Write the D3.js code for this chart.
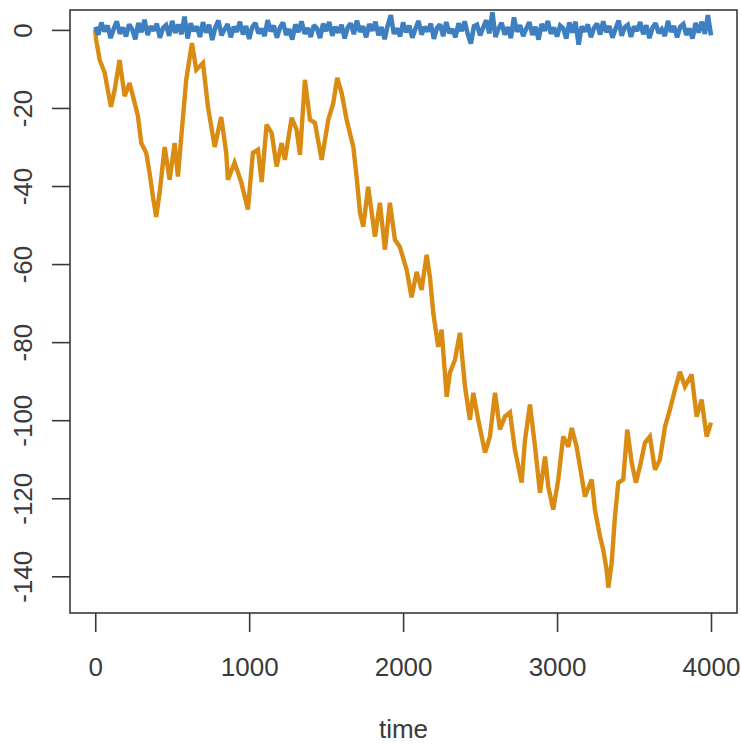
<!DOCTYPE html>
<html>
<head>
<meta charset="utf-8">
<script src="https://cdn.jsdelivr.net/npm/d3@7"></script>
<style>
  html, body { margin: 0; padding: 0; background: #ffffff; }
  svg { display: block; }
</style>
</head>
<body>
<svg id="chart" width="741" height="744"></svg>
<script>
// ---- data ----
const xTicks = [0, 1000, 2000, 3000, 4000];
const yTicks = [0, -20, -40, -60, -80, -100, -120, -140];
const xLabel = "time";

// random-walk series (orange): time points and values
const walkTime = [0, 6, 29, 61, 102, 126, 158, 191, 223, 245, 277, 299, 331, 353, 375, 396, 418, 451, 483, 516,
  537, 559, 591, 628, 656, 700, 732, 776, 818, 851, 862, 905, 948, 992, 1024, 1057, 1081, 1113, 1146, 1178,
  1211, 1232, 1276, 1308, 1330, 1362, 1395, 1427, 1471, 1514, 1546, 1572, 1601, 1633, 1676, 1698, 1720, 1741, 1773, 1817,
  1849, 1882, 1914, 1947, 1979, 2023, 2055, 2088, 2120, 2153, 2174, 2196, 2228, 2250, 2283, 2304, 2337, 2369, 2402, 2434,
  2456, 2488, 2532, 2564, 2597, 2629, 2661, 2694, 2726, 2770, 2792, 2824, 2857, 2889, 2922, 2943, 2975, 3008, 3040, 3073,
  3095, 3127, 3160, 3181, 3225, 3246, 3279, 3300, 3322, 3333, 3355, 3376, 3398, 3430, 3456, 3485, 3512, 3538, 3571, 3603,
  3636, 3668, 3701, 3733, 3766, 3798, 3831, 3874, 3907, 3939, 3972, 4000];
const walkValue = [0, -2.6, -7.7, -11, -19.7, -15.4, -7.7, -17, -13.6, -17, -22, -29, -31.5, -36.6, -42.8, -47.9, -41.7, -30, -38.4, -29,
  -37.6, -27.4, -12.8, -3.4, -10.2, -8.5, -19.7, -30, -22.3, -31.5, -38.4, -34, -39, -46, -31.5, -30.7, -39, -24.3, -26.4, -35,
  -29, -33.3, -22.5, -25.6, -32, -12.8, -23, -23.8, -33.3, -23, -18.8, -12.3, -16.2, -23, -29.9, -37.6, -46.9, -50.4, -40.2, -53,
  -44.3, -56.3, -44.3, -53.8, -55.6, -61.5, -68.5, -62, -66.6, -57.6, -63.3, -72.5, -81.2, -76.8, -94, -87.8, -84.5, -77.6, -91.4, -99.9,
  -93, -99.9, -108.3, -104.2, -93, -102.4, -99.1, -98, -107.5, -116, -105, -96, -106.8, -118.6, -109.3, -117, -122.9, -115.2, -104.2, -106.8,
  -102, -106.8, -114.5, -119.6, -115.2, -122.9, -129.8, -133.2, -138.3, -142.9, -136.5, -124.7, -116, -115.2, -102.4, -110.9, -116, -111.9, -105.8, -104.2,
  -112.7, -110.1, -101.7, -97.3, -92.2, -87.6, -91.4, -88.3, -99.1, -94.7, -104.2, -100.6];

// white-noise series (blue): values at evenly spaced times from 0 to 4000
const noiseValue = [0.8, -1.2, 1.9, -0.4, 1.1, -2.1, 0.3, 2.2, -1.0, 0.6,
  -1.7, 1.4, 0.2, -2.4, 1.8, -0.6, 2.6, -1.3, 0.9, -0.2,
  1.6, -2.0, 0.5, 1.2, -1.5, 2.3, -0.8, 1.4, -1.1, 3.4,
  -2.2, 1.7, -0.3, 0.9, -1.8, 2.0, -0.7, 1.3, -2.6, 0.6,
  2.4, -1.4, 0.1, 1.5, -1.9, 0.8, -0.5, 2.1, -1.2, 1.0,
  -2.3, 0.7, 1.8, -0.9, 0.3, -1.6, 2.5, -0.4, 1.1, -2.0,
  0.6, 1.9, -1.3, 0.2, -2.5, 1.4, -0.6, 2.2, -1.0, 0.5,
  -1.8, 1.2, 0.4, -2.1, 1.6, -0.3, 2.0, -1.5, 0.8, -0.7,
  1.3, -2.2, 0.6, 1.7, -1.1, 2.4, -0.5, 0.9, -1.9, 1.5,
  -0.2, 2.1, -1.4, 0.7, -2.4, 1.2, 3.8, -1.0, 0.4, -1.7,
  1.9, -0.6, 1.1, -2.0, 0.3, 2.3, -1.2, 0.8, -0.4, 1.6,
  -2.3, 0.5, 1.4, -1.6, 2.0, -0.8, 0.2, -1.9, 1.7, -0.3,
  2.2, -1.1, -3.5, 0.9, 1.3, -1.4, 0.6, 2.5, -0.9, 4.5,
  -1.8, 0.4, 1.8, -1.2, 0.7, -2.1, 3.2, -0.5, 1.2, -1.6,
  0.3, 2.0, -1.3, 0.8, -2.5, 1.5, -0.2, 2.3, -1.0, 0.6,
  -1.7, 1.1, 0.4, -2.2, 1.9, -0.7, 2.1, -3.8, 0.9, -0.4,
  1.4, -1.9, 0.5, 1.6, -1.2, 2.2, -0.6, 1.0, -2.0, 0.3,
  2.4, -1.5, 0.7, 1.3, -1.8, 0.9, -0.3, 2.0, -1.1, 1.2,
  -2.1, 0.6, 1.7, -0.8, 0.2, -1.6, 2.3, -0.5, 1.0, -1.9,
  0.8, 1.5, -1.3, 0.4, -2.2, 1.8, -0.7, 2.1, -1.0, 3.8, -1.4];

// ---- drawing ----
const svg = d3.select("#chart");
const W = 741, H = 744;
const box = { left: 70, right: 737, top: 10, bottom: 613 };

svg.append("rect").attr("width", W).attr("height", H).attr("fill", "#ffffff");

const x = d3.scaleLinear().domain([-164, 4169]).range([box.left, box.right]);
const y = d3.scaleLinear().domain([5.1, -149.4]).range([box.top, box.bottom]);

const orange = "#d98b12";
const blue = "#3d7fc0";
const ink = "#3a3a3a";
const font = "'Liberation Sans', Arial, Helvetica, sans-serif";

const walk = walkTime.map((t, i) => ({ t, v: walkValue[i] }));
const n = noiseValue.length;
const noise = noiseValue.map((v, i) => ({ t: i * 4000 / (n - 1), v }));

const line = d3.line().x(d => x(d.t)).y(d => y(d.v));

svg.append("path")
  .datum(walk)
  .attr("d", line)
  .attr("fill", "none")
  .attr("stroke", orange)
  .attr("stroke-width", 4.4)
  .attr("stroke-linejoin", "miter")
  .attr("stroke-miterlimit", 3);

svg.append("path")
  .datum(noise)
  .attr("d", line)
  .attr("fill", "none")
  .attr("stroke", blue)
  .attr("stroke-width", 4.6)
  .attr("stroke-linejoin", "miter")
  .attr("stroke-miterlimit", 2);

// frame
svg.append("rect")
  .attr("x", box.left).attr("y", box.top)
  .attr("width", box.right - box.left).attr("height", box.bottom - box.top)
  .attr("fill", "none").attr("stroke", ink).attr("stroke-width", 1.6);

// x axis
const xAxis = svg.append("g").attr("transform", `translate(0,${box.bottom})`)
  .call(d3.axisBottom(x).tickValues(xTicks).tickSize(19).tickPadding(26).tickFormat(d3.format("d")));
xAxis.select(".domain").remove();
xAxis.selectAll(".tick line").attr("stroke", ink).attr("stroke-width", 1.6);
xAxis.selectAll(".tick text")
  .attr("fill", ink).attr("font-family", font).attr("font-size", 26);

// y axis
const yAxis = svg.append("g").attr("transform", `translate(${box.left},0)`)
  .call(d3.axisLeft(y).tickValues(yTicks).tickSize(18).tickFormat(d => String(d)));
yAxis.select(".domain").remove();
yAxis.selectAll(".tick line").attr("stroke", ink).attr("stroke-width", 1.6);
yAxis.selectAll(".tick text")
  .attr("fill", ink).attr("font-family", font).attr("font-size", 26)
  .attr("x", null).attr("dy", null)
  .attr("text-anchor", "middle")
  .attr("transform", "translate(-38,0) rotate(-90)");

// x label
svg.append("text")
  .attr("x", (box.left + box.right) / 2)
  .attr("y", 738)
  .attr("text-anchor", "middle")
  .attr("fill", ink).attr("font-family", font).attr("font-size", 26)
  .text(xLabel);
</script>
</body>
</html>
